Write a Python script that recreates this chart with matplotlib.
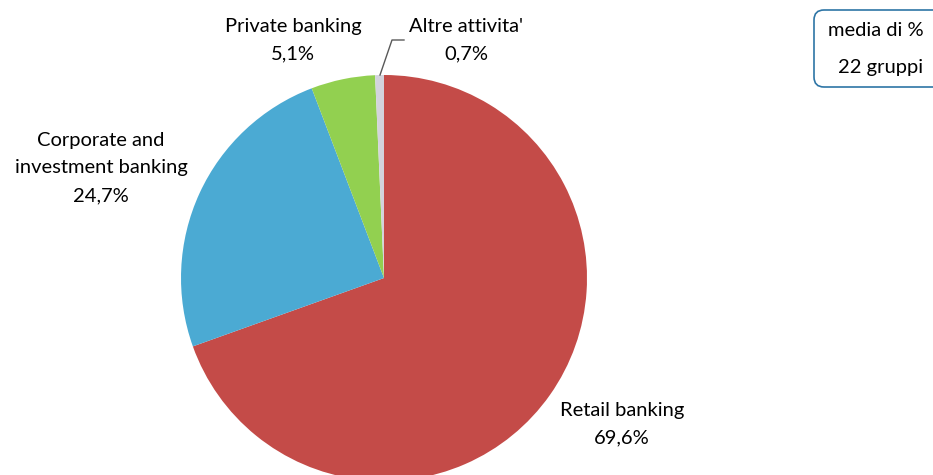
import matplotlib.pyplot as plt
from matplotlib.patches import FancyBboxPatch

plt.rcParams['font.family'] = ['Lato', 'DejaVu Sans']

labels = ['Retail banking', 'Corporate and\ninvestment banking', 'Private banking', "Altre attivita'"]
values = [69.6, 24.7, 5.1, 0.7]
colors = ['#C44B48', '#4BAAD3', '#92D050', '#D3D3DC']

W, H = 933, 475
fig = plt.figure(figsize=(W / 100, H / 100), dpi=100)
ax = fig.add_axes([0, 0, 1, 1])

cx, cy, r = 384, H - 278, 203
wedges, _ = ax.pie(values, colors=colors, startangle=90, counterclock=False,
                   center=(cx, cy), radius=r, frame=True,
                   wedgeprops=dict(linewidth=0))
ax.set_xlim(0, W)
ax.set_ylim(0, H)
ax.axis('off')

fs = 14.5
pct = [f'{v:.1f}'.replace('.', ',') + '%' for v in values]
pos = [(622, H - 424), (101, H - 168), (293, H - 40), (466, H - 40)]
for lab, p, (x, y) in zip(labels, pct, pos):
    ax.text(x, y, lab + '\n' + p, ha='center', va='center', fontsize=fs,
            linespacing=1.75)

# leader line for the small slice
ax.plot([380, 392, 404], [H - 75, H - 40, H - 40], color='#595959', lw=1)

box = FancyBboxPatch((814, H - 87), 140, 77, boxstyle='round,pad=0,rounding_size=10',
                     facecolor='white', edgecolor='#2E75A6', lw=1.2, clip_on=False)
ax.add_patch(box)
ax.text(876, H - 31, 'media di %', ha='center', va='center', fontsize=fs)
ax.text(881, H - 67, '22 gruppi', ha='center', va='center', fontsize=fs)

fig.savefig('out.png', dpi=100)
